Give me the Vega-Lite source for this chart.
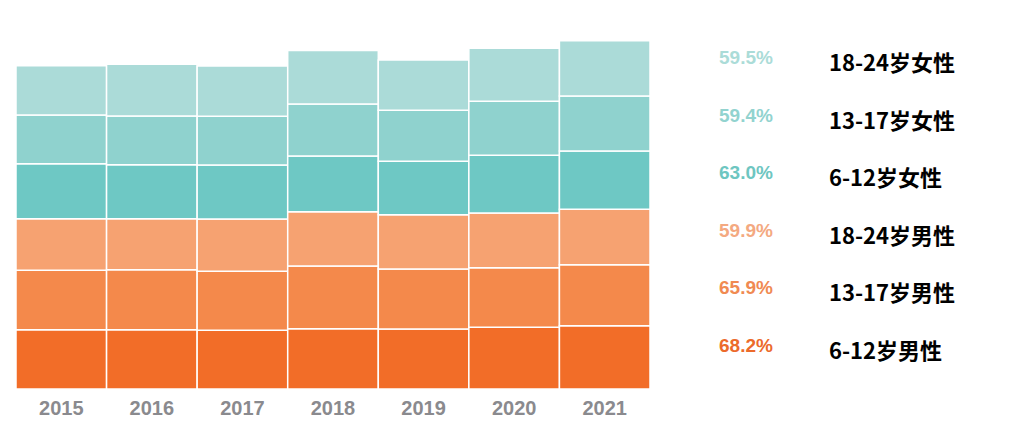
{
  "$schema": "https://vega.github.io/schema/vega-lite/v6.json",
  "padding": {"left": 15, "top": 0, "right": 0, "bottom": 0},
  "background": "#ffffff",
  "config": {"view": {"stroke": null}, "concat": {"spacing": 68}},
  "data": {
    "values": [
      {"year": "2015", "group": "6-12岁男性", "value": 64.0},
      {"year": "2015", "group": "13-17岁男性", "value": 64.1},
      {"year": "2015", "group": "18-24岁男性", "value": 55.7},
      {"year": "2015", "group": "6-12岁女性", "value": 59.4},
      {"year": "2015", "group": "13-17岁女性", "value": 52.6},
      {"year": "2015", "group": "18-24岁女性", "value": 53.2},
      {"year": "2016", "group": "6-12岁男性", "value": 64.0},
      {"year": "2016", "group": "13-17岁男性", "value": 64.8},
      {"year": "2016", "group": "18-24岁男性", "value": 55.1},
      {"year": "2016", "group": "6-12岁女性", "value": 58.3},
      {"year": "2016", "group": "13-17岁女性", "value": 52.6},
      {"year": "2016", "group": "18-24岁女性", "value": 55.8},
      {"year": "2017", "group": "6-12岁男性", "value": 63.4},
      {"year": "2017", "group": "13-17岁男性", "value": 63.7},
      {"year": "2017", "group": "18-24岁男性", "value": 56.5},
      {"year": "2017", "group": "6-12岁女性", "value": 58.3},
      {"year": "2017", "group": "13-17岁女性", "value": 52.6},
      {"year": "2017", "group": "18-24岁女性", "value": 54.3},
      {"year": "2018", "group": "6-12岁男性", "value": 65.1},
      {"year": "2018", "group": "13-17岁男性", "value": 67.7},
      {"year": "2018", "group": "18-24岁男性", "value": 58.6},
      {"year": "2018", "group": "6-12岁女性", "value": 60.2},
      {"year": "2018", "group": "13-17岁女性", "value": 56.2},
      {"year": "2018", "group": "18-24岁女性", "value": 57.6},
      {"year": "2019", "group": "6-12岁男性", "value": 64.8},
      {"year": "2019", "group": "13-17岁男性", "value": 64.8},
      {"year": "2019", "group": "18-24岁男性", "value": 58.6},
      {"year": "2019", "group": "6-12岁女性", "value": 57.6},
      {"year": "2019", "group": "13-17岁女性", "value": 55.1},
      {"year": "2019", "group": "18-24岁女性", "value": 54.3},
      {"year": "2020", "group": "6-12岁男性", "value": 66.6},
      {"year": "2020", "group": "13-17岁男性", "value": 64.4},
      {"year": "2020", "group": "18-24岁男性", "value": 59.0},
      {"year": "2020", "group": "6-12岁女性", "value": 62.3},
      {"year": "2020", "group": "13-17岁女性", "value": 58.3},
      {"year": "2020", "group": "18-24岁女性", "value": 57.2},
      {"year": "2021", "group": "6-12岁男性", "value": 68.2},
      {"year": "2021", "group": "13-17岁男性", "value": 65.9},
      {"year": "2021", "group": "18-24岁男性", "value": 59.9},
      {"year": "2021", "group": "6-12岁女性", "value": 63.0},
      {"year": "2021", "group": "13-17岁女性", "value": 59.4},
      {"year": "2021", "group": "18-24岁女性", "value": 59.5}
    ]
  },
  "hconcat": [
    {
      "width": 634,
      "height": 389,
      "transform": [
        {"calculate": "indexof(['6-12岁男性', '13-17岁男性', '18-24岁男性', '6-12岁女性', '13-17岁女性', '18-24岁女性'], datum.group)", "as": "stackOrder"}
      ],
      "mark": {"type": "bar", "stroke": "#ffffff", "strokeWidth": 1.5},
      "encoding": {
        "x": {
          "field": "year",
          "type": "nominal",
          "scale": {"paddingInner": 0, "paddingOuter": 0},
          "axis": {
            "title": null,
            "labelAngle": 0,
            "ticks": false,
            "domain": false,
            "labelPadding": 9,
            "labelFont": "Liberation Sans",
            "labelFontWeight": "bold",
            "labelFontSize": 20,
            "labelColor": "#8a8a8e"
          }
        },
        "y": {
          "field": "value",
          "type": "quantitative",
          "stack": "zero",
          "scale": {"domain": [0, 420], "nice": false},
          "axis": null
        },
        "order": {"field": "stackOrder", "type": "quantitative", "sort": "ascending"},
        "color": {
          "field": "group",
          "type": "nominal",
          "scale": {
            "domain": ["6-12岁男性", "13-17岁男性", "18-24岁男性", "6-12岁女性", "13-17岁女性", "18-24岁女性"],
            "range": ["#f26d28", "#f4894b", "#f6a271", "#6ec8c4", "#8fd2ce", "#abdbd8"]
          },
          "legend": null
        }
      }
    },
    {
      "width": 110,
      "height": 389,
      "transform": [
        {"filter": "datum.year === '2021'"},
        {"calculate": "format(datum.value, '.1f') + '%'", "as": "pct"}
      ],
      "layer": [
        {
          "mark": {
            "type": "text",
            "align": "left",
            "baseline": "middle",
            "font": "Liberation Sans",
            "fontWeight": "bold",
            "fontSize": 19
          },
          "encoding": {
            "x": {"datum": "pct", "type": "nominal", "scale": {"type": "point", "domain": ["pct", "name"], "padding": 0}, "axis": null},
            "y": {
              "field": "group",
              "type": "nominal",
              "scale": {
                "type": "point",
                "domain": ["18-24岁女性", "13-17岁女性", "6-12岁女性", "18-24岁男性", "13-17岁男性", "6-12岁男性"],
                "range": [58, 346],
                "padding": 0
              },
              "axis": null
            },
            "text": {"field": "pct"},
            "color": {
              "field": "group",
              "type": "nominal",
              "scale": {
                "domain": ["6-12岁男性", "13-17岁男性", "18-24岁男性", "6-12岁女性", "13-17岁女性", "18-24岁女性"],
                "range": ["#ec6a2b", "#f08a52", "#f4a981", "#6ec6c1", "#92d3cf", "#abdcd8"]
              },
              "legend": null
            }
          }
        },
        {
          "mark": {
            "type": "text",
            "align": "left",
            "baseline": "middle",
            "dy": 6,
            "font": "Noto Sans CJK SC",
            "fontWeight": "bold",
            "fontSize": 22,
            "color": "#000000"
          },
          "encoding": {
            "x": {"datum": "name", "type": "nominal", "axis": null},
            "y": {"field": "group", "type": "nominal", "axis": null},
            "text": {"field": "group"}
          }
        }
      ],
      "resolve": {"scale": {"color": "independent"}}
    }
  ],
  "resolve": {"scale": {"color": "independent", "y": "independent", "x": "independent"}}
}
